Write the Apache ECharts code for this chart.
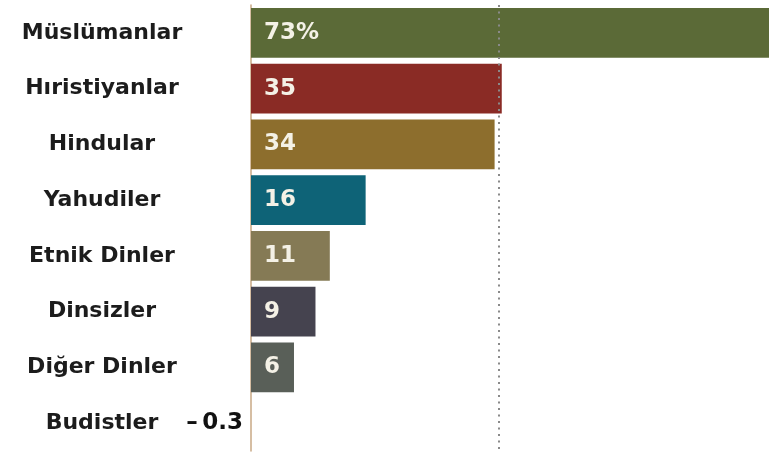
<!DOCTYPE html>
<html>
<head>
<meta charset="utf-8">
<script src="https://cdn.jsdelivr.net/npm/echarts@6/dist/echarts.min.js"></script>
<style>
html,body{margin:0;padding:0;background:#fff;}
#c{width:769px;height:456px;}
</style>
</head>
<body>
<div id="c"></div>
<script>
const categories = ['Müslümanlar','Hıristiyanlar','Hindular','Yahudiler','Etnik Dinler','Dinsizler','Diğer Dinler','Budistler'];
const values = [73, 35, 34, 16, 11, 9, 6, -0.3];
const valueLabels = ['73%', '35', '34', '16', '11', '9', '6', '–\u20090.3'];
const barColors = ['#5b6a37', '#8a2b25', '#8d6e2d', '#0e6377', '#857a55', '#45434f', '#595f58', '#c9a985'];
const referenceValue = 34.6;

const chart = echarts.init(document.getElementById('c'), null, {renderer:'canvas'});
const data = values.map((v, i) => {
  const item = { value: v, itemStyle: { color: barColors[i] } };
  if (v < 0) {
    item.label = { position: 'left', distance: 8, color: '#111', fontSize: 23 };
  }
  return item;
});
chart.setOption({
  animation: false,
  backgroundColor: '#fff',
  grid: { left: 251, right: 0, top: 5, bottom: 5, containLabel: false },
  xAxis: {
    type: 'value', min: 0, max: 72.3,
    axisLine: { show: false }, axisTick: { show: false },
    axisLabel: { show: false }, splitLine: { show: false }
  },
  yAxis: {
    type: 'category', data: categories, inverse: true,
    axisLine: { show: true, lineStyle: { color: '#c9a985', width: 1.5 } },
    axisTick: { show: false },
    axisLabel: {
      align: 'center', margin: 149,
      fontFamily: 'DejaVu Sans', fontWeight: 'bold', fontSize: 22, color: '#1c1c1c'
    }
  },
  series: [{
    type: 'bar',
    data: data,
    barCategoryGap: '11%',
    clip: true,
    label: {
      show: true, position: 'insideLeft', distance: 13,
      formatter: p => valueLabels[p.dataIndex],
      fontFamily: 'DejaVu Sans', fontWeight: 'bold', fontSize: 23, color: '#f4f1e6'
    },
    markLine: {
      silent: true, symbol: 'none', label: { show: false },
      lineStyle: { type: [2, 4.5], color: '#8a8a8a', width: 2 },
      data: [{ xAxis: referenceValue }]
    }
  }]
});
</script>
</body>
</html>
